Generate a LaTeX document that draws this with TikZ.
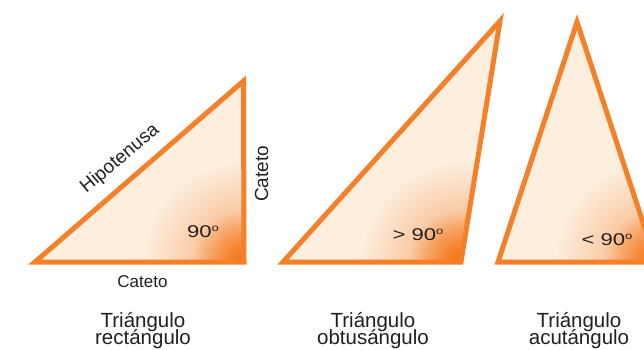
\documentclass[tikz,border=0pt]{standalone}
\usepackage{fontspec}
\setmainfont{Liberation Sans}
\usetikzlibrary{fadings}
\definecolor{tline}{HTML}{F5802A}
\definecolor{tfill}{HTML}{FDEEDE}
\definecolor{tglow}{HTML}{F4700F}
\definecolor{ttext}{HTML}{231F20}
\tikzfading[name=glowfade, inner color=transparent!0, outer color=transparent!100]
\newcommand{\degsign}{\raisebox{0.75ex}{\fontsize{10}{10}\selectfont o}}
\begin{document}
\begin{tikzpicture}[x=1pt,y=-1pt,
  edge/.style={draw=tline, line width=5pt, line join=miter},
  lbl/.style={text=ttext, inner sep=0pt, font=\fontsize{17}{20}\selectfont},
  anglbl/.style={text=ttext, inner sep=0pt, font=\fontsize{17}{20}\selectfont, xscale=1.3},
  ttl/.style={text=ttext, inner sep=0pt, anchor=base, font=\fontsize{20.5}{22}\selectfont}]
\useasboundingbox (0,0) rectangle (644,349);
\clip (0,0) rectangle (644,349);
% vertices
\coordinate (a1) at (35,262); \coordinate (b1) at (243.5,81); \coordinate (c1) at (244,262);
\coordinate (a2) at (283,262); \coordinate (b2) at (500,21); \coordinate (c2) at (461,262);
\coordinate (a3) at (498,262); \coordinate (b3) at (577,22); \coordinate (c3) at (656,262);
% fills with corner glow
\foreach \a/\b/\c in {a1/b1/c1, a2/b2/c2, a3/b3/c3}{
  \fill[tfill] (\a)--(\b)--(\c)--cycle;
  \begin{scope}
    \clip (\a)--(\b)--(\c)--cycle;
    \fill[tglow, opacity=0.55, path fading=glowfade] (\c) circle (100);
    \fill[tglow, path fading=glowfade] (\c) circle (52);
  \end{scope}
  \draw[edge] (\a)--(\b)--(\c)--cycle;
}
% labels
\node[lbl, font=\fontsize{19}{22}\selectfont, rotate=40] (hip) at (120,159) {Hipotenusa};
\node[lbl, font=\fontsize{19}{22}\selectfont, rotate=90, anchor=base] (cat1) at (268,174) {Cateto};
\node[lbl, anchor=base] (cat2) at (142.5,287) {Cateto};
\node[anglbl] (ang1) at (203,232) {90\degsign};
\node[anglbl] (ang2) at (418,235) {> 90\degsign};
\node[anglbl] (ang3) at (607,240) {< 90\degsign};
% titles
\node[ttl] (t1a) at (143,327) {Triángulo};
\node[ttl] (t1b) at (143,344) {rectángulo};
\node[ttl] (t2a) at (373,327) {Triángulo};
\node[ttl] (t2b) at (373,344) {obtusángulo};
\node[ttl] (t3a) at (579,327) {Triángulo};
\node[ttl] (t3b) at (579,344) {acutángulo};
\end{tikzpicture}
\end{document}
